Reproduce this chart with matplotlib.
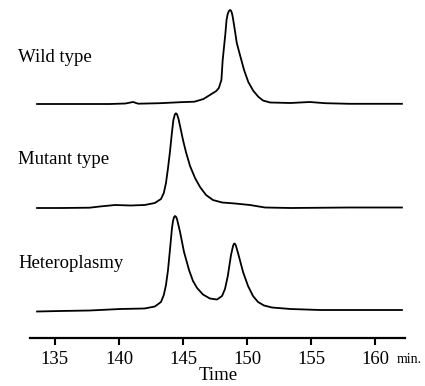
import numpy as np
import matplotlib
matplotlib.use("Agg")
import matplotlib.pyplot as plt

plt.rcParams['font.family'] = ['Liberation Serif', 'DejaVu Serif']

# traces: time (min) and detector signal (arb. units)
wild_t = [133.6, 135.5, 137.7, 139.3, 140.5, 141.1, 141.5, 143.2, 144.8, 145.9,
          146.6, 147.1, 147.6, 147.8, 148.0, 148.1, 148.3, 148.4, 148.5, 148.6,
          148.67, 148.75, 148.83, 148.9, 149.06, 149.2, 149.45, 149.77, 150.1, 150.5,
          150.9, 151.25, 151.8, 153.4, 154.9, 156.1, 158.0, 162.1]
wild_s = [0.0, 0.0, 0.0, 0.0, 0.5, 2.0, 0.3, 0.8, 1.8, 2.3,
          5.0, 9.0, 13.0, 16.0, 24.0, 44.0, 69.0, 84.0, 90.5, 93.3,
          94.0, 93.3, 90.5, 86.0, 73.0, 61.0, 49.0, 34.0, 22.0, 13.0,
          7.0, 3.5, 1.5, 1.0, 2.0, 0.8, 0.2, 0.2]

mutant_t = [133.6, 135.5, 137.7, 138.5, 139.7, 140.9, 142.0, 142.8, 143.28, 143.5,
            143.67, 143.83, 143.98, 144.14, 144.25, 144.37, 144.45, 144.53, 144.65, 144.77,
            145.0, 145.23, 145.55, 145.94, 146.33, 146.8, 147.34, 148.05, 149.06, 150.23,
            151.4, 153.4, 158.0, 162.1]
mutant_s = [0.0, 0.0, 0.3, 1.5, 3.0, 2.5, 3.0, 5.0, 9.0, 15.0,
            25.0, 40.0, 56.0, 76.0, 88.0, 93.8, 94.7, 93.8, 89.0, 82.0,
            68.0, 56.0, 42.0, 30.0, 21.0, 13.0, 8.0, 5.5, 4.5, 3.0,
            0.5, 0.0, 0.5, 0.5]

hetero_t = [133.6, 135.4, 137.7, 140.1, 142.0, 142.8, 143.28, 143.5, 143.67, 143.83,
            143.98, 144.14, 144.22, 144.3, 144.37, 144.45, 144.53, 144.77, 145.08, 145.47,
            145.78, 146.1, 146.56, 147.1, 147.66, 148.05, 148.28, 148.5, 148.75, 148.9,
            148.96, 149.02, 149.08, 149.14, 149.34, 149.69, 150.08, 150.47, 150.86, 151.33,
            151.95, 153.4, 155.7, 158.8, 162.1]
hetero_s = [0.0, 0.5, 1.0, 2.5, 3.0, 5.0, 9.5, 16.5, 26.5, 41.5,
            61.5, 83.5, 90.5, 94.3, 95.5, 94.8, 92.5, 79.5, 59.5, 41.5,
            30.5, 23.5, 17.0, 13.0, 12.0, 15.5, 22.5, 35.5, 56.5, 65.0,
            67.3, 68.0, 67.3, 65.5, 56.5, 39.5, 25.5, 15.5, 9.5, 6.0,
            4.0, 2.5, 1.5, 1.5, 1.5]

names = ['Wild type', 'Mutant type', 'Heteroplasmy']
ticks = [135, 140, 145, 150, 155, 160]

W, H = 425, 386
fig = plt.figure(figsize=(W / 100, H / 100), dpi=100)
ax = fig.add_axes([30 / W, 48 / H, 375 / W, 338 / H])

offsets = [234, 130, 26.5]
label_y = [58, 160, 264]
for t, s, off, name, ly in zip([wild_t, mutant_t, hetero_t],
                               [wild_s, mutant_s, hetero_s],
                               offsets, names, label_y):
    ax.plot(t, np.array(s) + off, color='black', lw=1.3,
            solid_joinstyle='round')
    fig.text(18 / W, 1 - ly / H, name, fontsize=13.5, va='center', ha='left')

ax.set_xlim(133.05, 162.34)
ax.set_ylim(0, 338)
for sp in ['top', 'left', 'right']:
    ax.spines[sp].set_visible(False)
ax.spines['bottom'].set_linewidth(1.6)
ax.set_yticks([])
ax.set_xticks(ticks)
ax.tick_params(axis='x', direction='out', length=5, width=1.5,
               labelsize=13.5, pad=4)

fig.text(397 / W, 1 - 363 / H, 'min.', fontsize=10, ha='left', va='baseline')
fig.text(218 / W, 1 - 376 / H, 'Time', fontsize=13.5, ha='center', va='center')

fig.savefig('out.png', dpi=100)
